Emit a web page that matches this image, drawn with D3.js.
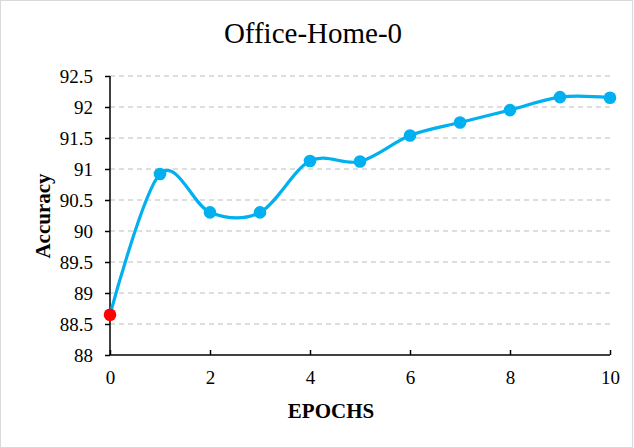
<!DOCTYPE html>
<html>
<head>
<meta charset="utf-8">
<script src="https://cdn.jsdelivr.net/npm/d3@7"></script>
<style>
  body { margin: 0; background: #fff; }
  svg { display: block; font-family: "Liberation Serif", "Times New Roman", serif; }
</style>
</head>
<body>
<svg></svg>
<script>
// data
const epochs = [0, 1, 2, 3, 4, 5, 6, 7, 8, 9, 10];
const accuracy = [88.65, 90.92, 90.30, 90.30, 91.13, 91.12, 91.54, 91.75, 91.95, 92.16, 92.15];
const xTicks = [0, 2, 4, 6, 8, 10];
const yTicks = [88, 88.5, 89, 89.5, 90, 90.5, 91, 91.5, 92, 92.5];

let width = 634, height = 448,
    margin = {top: 76, right: 24, bottom: 93, left: 110};

let svg = d3.select('svg').attr('width', width).attr('height', height);

// outer chart border
svg.append('rect')
    .attr('x', 0.5).attr('y', 0.5)
    .attr('width', width - 2).attr('height', height - 1)
    .attr('fill', '#fff').attr('stroke', '#d9d9d9');

let x = d3.scaleLinear().domain([0, 10]).range([margin.left, width - margin.right]),
    y = d3.scaleLinear().domain([88, 92.5]).range([height - margin.bottom, margin.top]);

// dashed gridlines
svg.append('g')
    .selectAll('line')
    .data(yTicks.slice(1))
    .enter()
    .append('line')
    .attr('x1', x(0)).attr('x2', x(10))
    .attr('y1', d => y(d)).attr('y2', d => y(d))
    .attr('stroke', '#d4d4d4')
    .attr('stroke-width', 1.3)
    .attr('stroke-dasharray', '5,4');

// y axis, ticks outside
let yAxis = svg.append('g')
    .attr('transform', `translate(${x(0)},0)`)
    .call(d3.axisLeft(y).tickValues(yTicks).tickSize(5).tickPadding(12).tickFormat(d3.format('')));
yAxis.select('.domain').attr('stroke', '#000').attr('stroke-width', 1.5).attr('d', `M0,${y(92.5)}V${y(88)}`);
yAxis.selectAll('.tick line').attr('stroke', '#000').attr('stroke-width', 1.5);
yAxis.selectAll('text').attr('font-size', 19).attr('fill', '#000').attr('font-family', '"Liberation Serif", serif');

// x axis, ticks inside
let xAxis = svg.append('g')
    .attr('transform', `translate(0,${y(88)})`)
    .call(d3.axisBottom(x).tickValues(xTicks).tickSize(-5).tickPadding(16));
xAxis.select('.domain').attr('stroke', '#000').attr('stroke-width', 1.5).attr('d', `M${x(0)},0H${x(10)}`);
xAxis.selectAll('.tick line').attr('stroke', '#000').attr('stroke-width', 1.5);
xAxis.selectAll('text').attr('font-size', 19).attr('fill', '#000').attr('font-family', '"Liberation Serif", serif');

// smoothed line
let line = d3.line()
    .x((d, i) => x(epochs[i]))
    .y(d => y(d))
    .curve(d3.curveCatmullRom.alpha(0));

svg.append('path')
    .datum(accuracy)
    .attr('d', line)
    .attr('fill', 'none')
    .attr('stroke', '#00b0f0')
    .attr('stroke-width', 3.2);

svg.append('g')
    .selectAll('circle')
    .data(accuracy)
    .enter()
    .append('circle')
    .attr('cx', (d, i) => x(epochs[i]))
    .attr('cy', d => y(d))
    .attr('r', 6.3)
    .attr('fill', (d, i) => i == 0 ? '#ff0000' : '#00b0f0');

// titles
svg.append('text')
    .attr('x', 313).attr('y', 43)
    .attr('text-anchor', 'middle')
    .attr('font-size', 29)
    .text('Office-Home-0');

svg.append('text')
    .attr('x', 331).attr('y', 418)
    .attr('text-anchor', 'middle')
    .attr('font-size', 21)
    .attr('font-weight', 'bold')
    .text('EPOCHS');

svg.append('text')
    .attr('transform', 'translate(50,216) rotate(-90)')
    .attr('text-anchor', 'middle')
    .attr('font-size', 21)
    .attr('font-weight', 'bold')
    .text('Accuracy');
</script>
</body>
</html>
